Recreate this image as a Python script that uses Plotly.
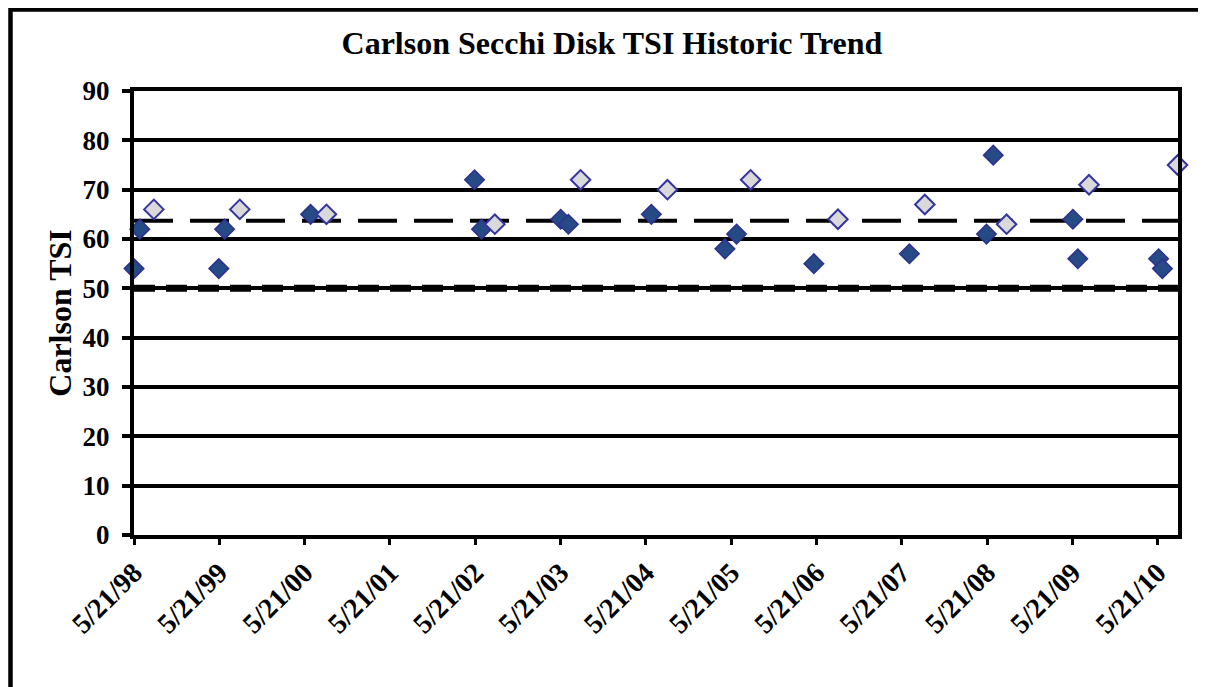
import plotly.graph_objects as go

# measured Secchi disk TSI (dark diamonds)
secchi_dates = ["1998-05-21", "1998-06-15", "1999-05-19", "1999-06-13", "2000-06-15",
                "2002-05-18", "2002-06-17", "2003-05-22", "2003-06-24", "2004-06-13",
                "2005-04-24", "2005-06-13", "2006-05-10", "2007-06-23", "2008-05-18",
                "2008-06-16", "2009-05-23", "2009-06-13", "2010-05-25", "2010-06-10"]
secchi_tsi = [54, 62, 54, 62, 65, 72, 62, 64, 63, 65, 58, 61, 55, 57, 61, 77, 64, 56, 56, 54]

# late-summer TSI (light diamonds)
summer_dates = ["1998-08-14", "1999-08-17", "2000-08-22", "2002-08-13", "2003-08-15",
                "2004-08-21", "2005-08-12", "2006-08-21", "2007-08-28", "2008-08-12",
                "2009-07-31", "2010-08-14"]
summer_tsi = [66, 66, 65, 63, 72, 70, 72, 64, 67, 63, 71, 75]

tick_dates = ["1998-05-21", "1999-05-21", "2000-05-21", "2001-05-21", "2002-05-21",
              "2003-05-21", "2004-05-21", "2005-05-21", "2006-05-21", "2007-05-21",
              "2008-05-21", "2009-05-21", "2010-05-21"]
tick_labels = ["5/21/98", "5/21/99", "5/21/00", "5/21/01", "5/21/02", "5/21/03", "5/21/04",
               "5/21/05", "5/21/06", "5/21/07", "5/21/08", "5/21/09", "5/21/10"]

mean_tsi = 63.7
eutrophic_tsi = 50

font = dict(family="Liberation Serif", color="black", weight="bold")

fig = go.Figure()
fig.add_trace(go.Scatter(x=secchi_dates, y=secchi_tsi, mode="markers", cliponaxis=False,
                         marker=dict(symbol="diamond", size=15, color="#254A84",
                                     line=dict(color="#2E3192", width=1.5))))
fig.add_trace(go.Scatter(x=summer_dates, y=summer_tsi, mode="markers", cliponaxis=False,
                         marker=dict(symbol="diamond", size=15, color="#D9D9D9",
                                     line=dict(color="#3434A0", width=2))))

fig.add_shape(type="line", xref="paper", x0=0, x1=1, y0=mean_tsi, y1=mean_tsi,
              line=dict(color="black", width=4, dash="39px,17px"), layer="below")
fig.add_shape(type="line", xref="paper", x0=0, x1=1, y0=eutrophic_tsi, y1=eutrophic_tsi,
              line=dict(color="black", width=7, dash="21px,11px"), layer="below")
# outer chart frame
fig.add_shape(type="rect", xref="paper", yref="paper", x0=-0.1183, x1=1.2, y0=-0.5, y1=1.1836,
              line=dict(color="black", width=4.5))

fig.update_layout(
    width=1206, height=687, showlegend=False,
    plot_bgcolor="white", paper_bgcolor="white",
    margin=dict(l=126, r=36, t=83, b=160),
    font=font,
    title=dict(text="Carlson Secchi Disk TSI Historic Trend", x=0.5008, xanchor="center",
               y=0.949, yanchor="middle", font=dict(size=32, **font)),
)
fig.update_xaxes(range=["1998-05-21", "2010-08-16"], tickvals=tick_dates, ticktext=tick_labels,
                 tickangle=-45, tickfont=dict(size=28, **font), ticks="outside", ticklen=6,
                 tickwidth=3, tickcolor="black", ticklabelstandoff=0, showgrid=False,
                 zeroline=False, showline=True, linecolor="black", linewidth=4, mirror=True)
fig.update_yaxes(range=[0, 90], dtick=10, tickfont=dict(size=27, **font), ticks="outside",
                 ticklen=8, tickwidth=3.5, tickcolor="black", ticklabelstandoff=7,
                 showgrid=True, gridcolor="black", gridwidth=3.5, zeroline=False,
                 showline=True, linecolor="black", linewidth=4, mirror=True,
                 title=dict(text="Carlson TSI", font=dict(size=32, **font), standoff=2))

fig.write_html("out.html")
